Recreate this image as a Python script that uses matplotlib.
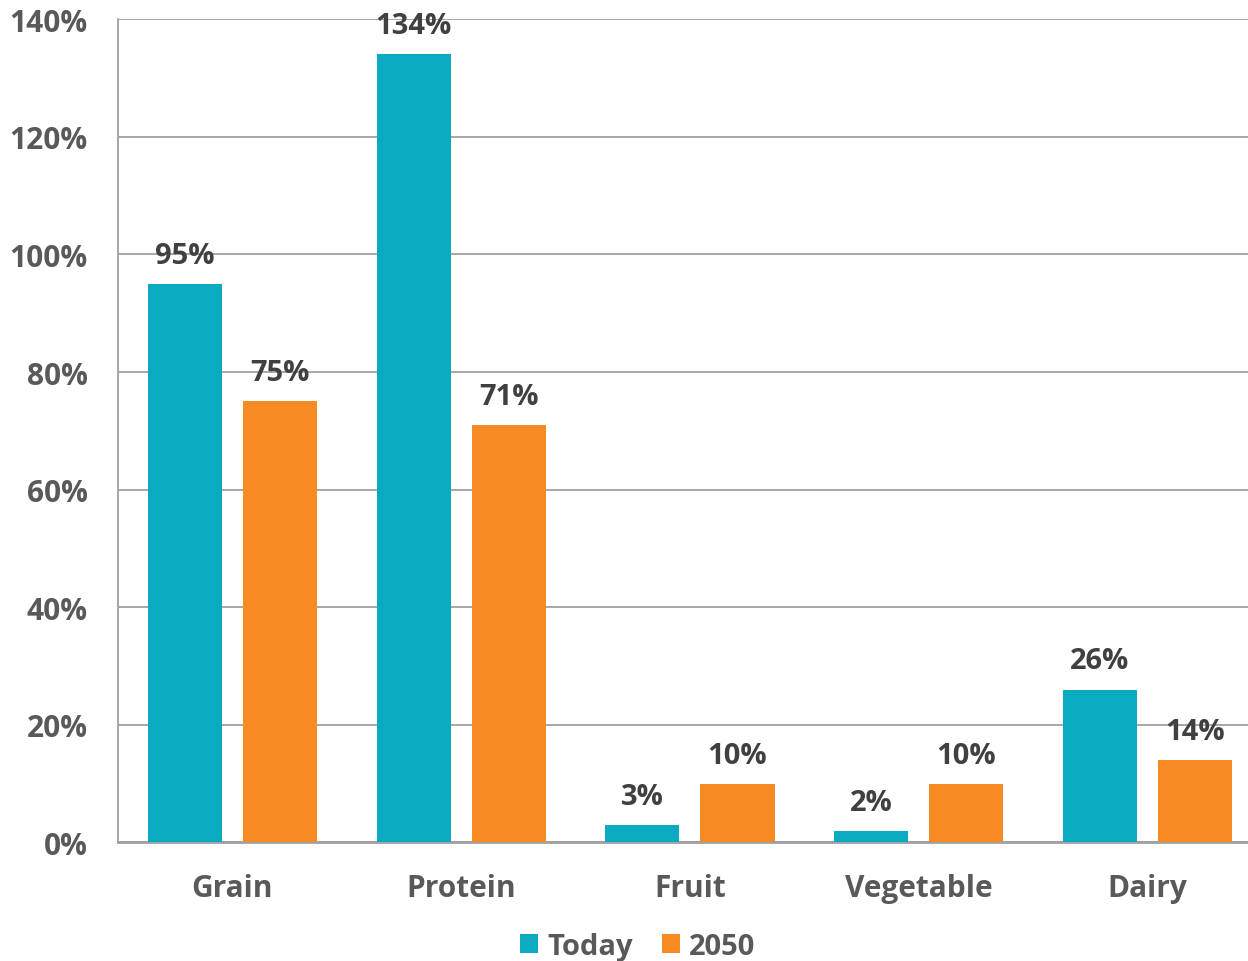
import numpy as np
import matplotlib.pyplot as plt

plt.rcParams['font.family'] = ['Open Sans', 'DejaVu Sans']
plt.rcParams['font.weight'] = 'bold'

categories = ['Grain', 'Protein', 'Fruit', 'Vegetable', 'Dairy']
today = [95, 134, 3, 2, 26]
y2050 = [75, 71, 10, 10, 14]
yticks = [0, 20, 40, 60, 80, 100, 120, 140]

teal = '#0AABC1'
orange = '#F68B24'
grid = '#A0A0A0'

fig = plt.figure(figsize=(12.48, 9.62), dpi=100)
ax = fig.add_axes([0.0946, 0.1232, 0.9054, 0.8558])

x = np.arange(len(categories))
w = 0.324
off = 0.208
b1 = ax.bar(x - off, today, w, color=teal, label='Today', zorder=3)
b2 = ax.bar(x + off, y2050, w, color=orange, label='2050', zorder=3)

for bars, vals in ((b1, today), (b2, y2050)):
    for b, v in zip(bars, vals):
        ax.text(b.get_x() + b.get_width() / 2, v + 2.4, f'{v}%', ha='center', va='bottom',
                fontsize=21, fontweight='bold', color='#404040', zorder=4)

ax.set_xlim(-0.5, 4.44)
ax.set_ylim(0, 140)
ax.set_yticks(yticks)
ax.set_yticklabels([f'{t}%' for t in yticks])
ax.set_xticks(x)
ax.set_xticklabels(categories)
ax.tick_params(axis='both', length=0, labelsize=21.5, labelcolor='#595959')
ax.tick_params(axis='y', pad=22)
ax.tick_params(axis='x', pad=22)
for lab in ax.get_xticklabels() + ax.get_yticklabels():
    lab.set_fontweight('bold')

ax.yaxis.grid(True, color=grid, linewidth=1.3, zorder=0)
ax.spines['top'].set_visible(False)
ax.spines['right'].set_visible(False)
ax.spines['left'].set_color(grid)
ax.spines['left'].set_linewidth(1.3)
ax.spines['bottom'].set_color(grid)
ax.spines['bottom'].set_linewidth(2)

leg = fig.legend(handles=[b1, b2], labels=['Today', '2050'], loc='center', bbox_to_anchor=(0.511, 0.015),
                 ncol=2, frameon=False, fontsize=21, handlelength=0.62, handleheight=0.62,
                 handletextpad=0.3, columnspacing=1.0)
for t in leg.get_texts():
    t.set_color('#595959')
    t.set_fontweight('bold')

fig.savefig('out.png', dpi=100)
